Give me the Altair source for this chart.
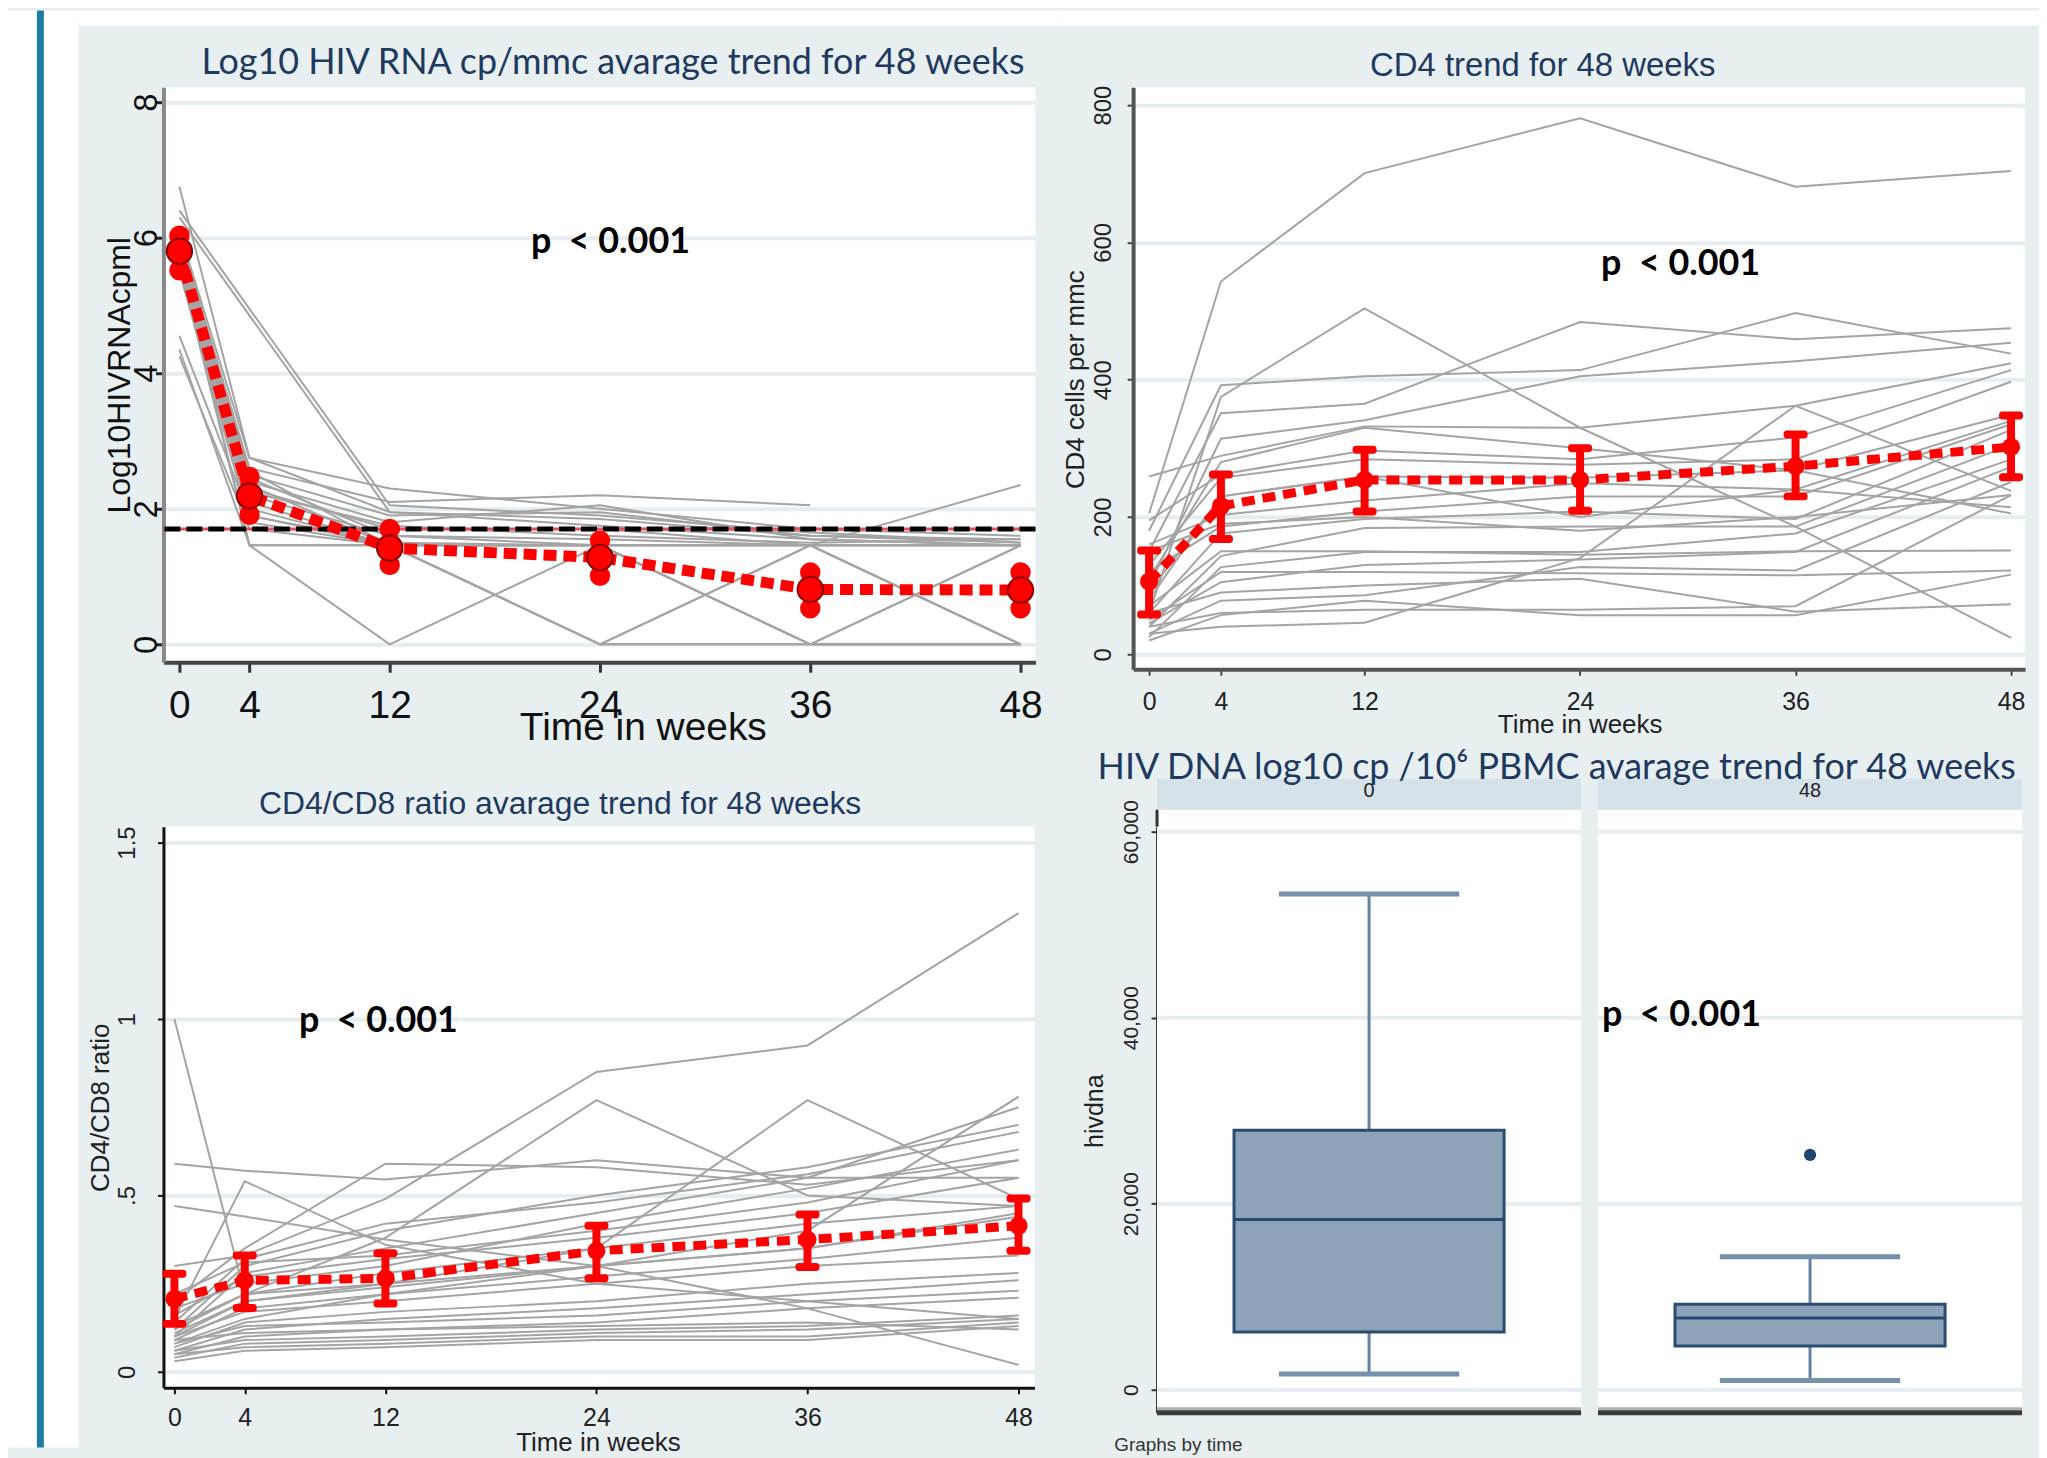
import altair as alt
import pandas as pd

# ---------------- data ----------------
weeks = [0, 4, 12, 24, 36, 48]

rna_mean = [5.80, 2.19, 1.42, 1.28, 0.81, 0.80]
rna_lo = [5.52, 1.91, 1.17, 1.01, 0.53, 0.53]
rna_hi = [6.03, 2.47, 1.70, 1.53, 1.06, 1.06]
rna_cutoff = [1.70]
rna_subjects = [
    [6.75, 2.75, 1.95, 1.85, 1.60, 1.55],
    [6.40, None, 2.05, 1.90, 1.65, 1.50],
    [6.30, None, 1.95, 1.75, 1.55, 1.46],
    [6.10, 2.75, 2.30, 2.00, 1.70, 1.60],
    [6.00, 2.60, 2.10, 2.20, 2.05, None],
    [5.90, 2.50, 1.90, 1.95, 1.60, 1.50],
    [5.85, 2.40, 1.80, 2.05, 1.55, 1.46],
    [5.80, 2.30, 1.70, 1.70, 1.46, 1.46],
    [5.75, 2.20, 1.60, 1.55, 1.46, 0.0],
    [5.70, 2.10, 1.46, 0.0, 1.46, 1.46],
    [5.65, 2.00, 1.46, 1.46, 0.0, 0.0],
    [5.60, 1.90, 1.46, 0.0, 0.0, 1.46],
    [5.50, 1.80, 1.46, 1.46, 1.46, 0.0],
    [5.60, 1.46, 0.0, 1.46, 0.0, 0.0],
    [5.70, 1.46, 1.46, 1.46, 1.46, 1.46],
    [4.55, 1.90, 1.50, 1.46, 0.0, 0.0],
    [4.35, 1.46, 1.46, 0.0, 1.46, 0.0],
    [4.25, 1.70, 1.46, 1.46, 1.46, 1.46],
    [5.95, 2.45, 1.60, 1.46, 1.46, 2.35],
    [6.05, 2.55, 1.46, 0.0, 0.0, 0.0],
    [5.90, 2.35, 1.46, 1.46, 0.0, 1.46],
    [5.80, 2.25, 1.75, 1.60, 1.50, 1.55],
]

cd4_mean = [106, 216, 254, 254, 274, 302]
cd4_lo = [58, 168, 208, 209, 230, 258]
cd4_hi = [151, 262, 298, 300, 320, 348]
cd4_subjects = [
    [205, 543, 701, 781, 681, 704],
    [60, 375, 504, 330, 186, 24],
    [180, 392, 405, 414, 497, 438],
    [150, 351, 365, 484, 459, 475],
    [100, 314, 341, 405, 427, 454],
    [259, 289, 332, 330, 362, 424],
    [195, 262, 297, 284, 316, 414],
    [130, 257, 284, 276, 284, 397],
    [80, 230, 259, 257, 268, 349],
    [160, 203, 224, 249, 240, 340],
    [120, 186, 208, 230, 230, 335],
    [60, 176, 197, 208, 197, 327],
    [40, 143, 184, 186, 186, 305],
    [25, 127, 149, 149, 176, 284],
    [45, 105, 130, 138, 149, 273],
    [30, 78, 86, 127, 122, 251],
    [20, 57, 78, 57, 57, 116],
    [30, 40, 46, 140, 362, 238],
    [90, 230, 259, 200, 240, 214],
    [110, 280, 330, 300, 268, 205],
    [70, 150, 150, 145, 150, 151],
    [50, 120, 120, 118, 115, 122],
    [60, 90, 100, 110, 62, 73],
    [40, 60, 65, 65, 70, 232],
    [150, 190, 200, 180, 200, 232],
]

ratio_mean = [0.207, 0.259, 0.265, 0.343, 0.375, 0.414]
ratio_lo = [0.136, 0.181, 0.194, 0.265, 0.297, 0.343]
ratio_hi = [0.278, 0.330, 0.336, 0.414, 0.446, 0.491]
ratio_subjects = [
    [0.30, 0.33, 0.49, 0.85, 0.925, 1.30],
    [0.12, 0.22, 0.38, 0.77, 0.50, 0.47],
    [1.00, 0.22, 0.25, 0.30, 0.35, 0.45],
    [0.59, 0.57, 0.545, 0.60, 0.55, 0.55],
    [0.20, 0.35, 0.59, 0.58, 0.53, 0.60],
    [0.47, 0.44, 0.375, 0.30, 0.18, 0.02],
    [0.15, 0.54, 0.36, 0.25, 0.20, 0.15],
    [0.10, 0.20, 0.25, 0.35, 0.77, 0.49],
    [0.08, 0.15, 0.22, 0.30, 0.40, 0.78],
    [0.10, 0.28, 0.35, 0.45, 0.55, 0.75],
    [0.12, 0.30, 0.40, 0.50, 0.58, 0.70],
    [0.14, 0.32, 0.42, 0.48, 0.56, 0.68],
    [0.18, 0.25, 0.30, 0.42, 0.52, 0.63],
    [0.22, 0.31, 0.33, 0.40, 0.48, 0.60],
    [0.16, 0.27, 0.32, 0.38, 0.45, 0.55],
    [0.13, 0.22, 0.28, 0.35, 0.42, 0.47],
    [0.11, 0.20, 0.24, 0.30, 0.35, 0.44],
    [0.09, 0.18, 0.22, 0.27, 0.32, 0.38],
    [0.10, 0.17, 0.20, 0.25, 0.30, 0.33],
    [0.07, 0.14, 0.17, 0.20, 0.25, 0.28],
    [0.06, 0.12, 0.15, 0.18, 0.22, 0.26],
    [0.08, 0.13, 0.14, 0.16, 0.20, 0.23],
    [0.05, 0.10, 0.12, 0.14, 0.18, 0.21],
    [0.06, 0.09, 0.10, 0.12, 0.13, 0.16],
    [0.04, 0.08, 0.09, 0.11, 0.12, 0.15],
    [0.05, 0.07, 0.08, 0.10, 0.10, 0.14],
    [0.03, 0.06, 0.07, 0.09, 0.09, 0.13],
    [0.09, 0.11, 0.12, 0.13, 0.14, 0.12],
]

dna_time = [0, 48]
dna_low = [1700, 1000]
dna_q1 = [6200, 4700]
dna_median = [18300, 7700]
dna_q3 = [27900, 9200]
dna_high = [53300, 14300]
dna_outlier_time = [48]
dna_outlier_value = [25250]
dna_grid = [0, 20000, 40000, 60000]

p_label = "p\u00a0\u00a0< 0.001"
p_rna = (24.6, 5.93)
p_cd4 = (29.6, 569)
p_ratio = (11.6, 0.994)
p_dna = (48, 40290)

# ---------------- styles ----------------
BG = "#e8eff1"
GRID = "#e5edf0"
GRAY = "#a4a4a4"
RED = "#ff0000"
NAVY = "#1f3a60"
BLUE_EDGE = "#1f7ba2"
ARIAL = "Liberation Sans"
CALIBRI = "Lato"

one = pd.DataFrame({"k": [0]})


def long_df(subjects):
    rows = []
    for i, s in enumerate(subjects):
        for w, v in zip(weeks, s):
            if v is not None:
                rows.append({"id": i, "week": w, "value": v})
    return pd.DataFrame(rows)


def box(x1, x2, y1, y2, color="white", opacity=1):
    return alt.Chart(one).mark_rect(color=color, opacity=opacity).encode(
        x=alt.value(x1), x2=alt.value(x2), y=alt.value(y1), y2=alt.value(y2))


def anchor(x1, x2, y1, y2):
    return box(x1, x2, y1, y2, opacity=0)


def text_at(txt, x, y, font, size, color, weight="normal", align="center"):
    return alt.Chart(pd.DataFrame({"t": [txt]})).mark_text(
        font=font, fontSize=size, color=color, fontWeight=weight,
        align=align, baseline="middle").encode(
        x=alt.value(x), y=alt.value(y), text="t:N")


def make_x(domain, axis):
    return alt.X("week:Q", scale=alt.Scale(domain=domain, nice=False, zero=False), axis=axis)


def make_y_factory(domain, axis):
    def f(field):
        return alt.Y(f"{field}:Q", scale=alt.Scale(domain=domain, nice=False, zero=False), axis=axis)
    return f


def trend_layers(subjects, mean, lo, hi, X, Y, line_w, dash, bar_w, p_pos, big=False):
    sdf = long_df(subjects)
    mdf = pd.DataFrame({"week": weeks, "value": mean, "lo": lo, "hi": hi})
    layers = [
        alt.Chart(sdf).mark_line(color=GRAY, strokeWidth=2).encode(x=X, y=Y("value"), detail="id:N"),
    ]
    mline = alt.Chart(mdf).mark_line(color=RED, strokeWidth=line_w, strokeDash=dash,
                                     strokeCap="butt").encode(x=X, y=Y("value"))
    bars = alt.Chart(mdf).mark_rule(color=RED, strokeWidth=bar_w).encode(
        x=X, y=Y("lo"), y2=alt.Y2("hi"))
    if big:
        caps = [alt.Chart(mdf).mark_circle(color=RED, size=420, opacity=1).encode(x=X, y=Y(f))
                for f in ("lo", "hi")]
        pts = alt.Chart(mdf).mark_point(filled=True, fill=RED, stroke="#8a0000", strokeWidth=2,
                                        size=650, opacity=1).encode(x=X, y=Y("value"))
    else:
        caps = [alt.Chart(mdf).mark_tick(color=RED, orient="horizontal", size=24, thickness=8,
                                         opacity=1, cornerRadius=3).encode(x=X, y=Y(f))
                for f in ("lo", "hi")]
        pts = alt.Chart(mdf).mark_circle(color=RED, size=330, opacity=1).encode(x=X, y=Y("value"))
    pdf = pd.DataFrame({"week": [p_pos[0]], "value": [p_pos[1]], "t": [p_label]})
    ptxt = alt.Chart(pdf).mark_text(font=CALIBRI, fontWeight="bold", fontSize=36, color="#000",
                                    baseline="middle").encode(x=X, y=Y("value"), text="t:N")
    return layers, [mline, bars] + caps + [pts, ptxt]


# Page layout (page pixels): column 1 plots start at x=164, column 2 at x=1137;
# row 1 plots start at y=85, row 2 at y=827.

# ---------------- panel 1: HIV RNA ----------------
TL_W, TL_H = 875, 577
tl_x = make_x([-0.91, 48.85], alt.Axis(
    values=weeks, grid=False, title="Time in weeks", titleFontSize=39, titleX=481, titleY=66,
    titleBaseline="middle", labelFontSize=39, labelBaseline="middle", labelPadding=33,
    tickSize=10, tickWidth=3, tickColor="#333", domainColor="#444", domainWidth=4,
    labelFlush=False, labelOverlap=False, labelColor="#111", titleColor="#111"))
tl_y = make_y_factory([-0.265, 8.22], alt.Axis(
    values=[0, 2, 4, 6, 8], grid=True, gridColor=GRID, gridWidth=4, title="Log10HIVRNAcpml",
    titleFontSize=32, titleX=-44, titleY=TL_H / 2, titleBaseline="middle", labelAngle=-90,
    labelAlign="center", labelBaseline="middle", labelFontSize=33, labelPadding=9, tickSize=8,
    tickWidth=3, tickColor="#222", domainColor="#888", domainWidth=4, labelColor="#111",
    titleColor="#111", labelFlush=False, labelOverlap=False))
base, top = trend_layers(rna_subjects, rna_mean, rna_lo, rna_hi, tl_x, tl_y, 11, [13, 7], 11,
                         p_rna, big=True)
cut = pd.DataFrame({"value": rna_cutoff})
cut_red = alt.Chart(cut).mark_rule(color="#e2505a", strokeWidth=3).encode(y=tl_y("value"))
cut_blk = alt.Chart(cut).mark_rule(color="#000", strokeWidth=5, strokeDash=[16, 6]).encode(y=tl_y("value"))
tl = alt.layer(
    box(-156, -85, -77, 663), box(-85, 896, -77, -62), box(-127, -120, -77, 663, BLUE_EDGE),
    *base, cut_red, cut_blk, *top,
    text_at("Log10 HIV RNA cp/mmc avarage trend for 48 weeks", 451, -24, CALIBRI, 36, NAVY),
    anchor(-156, 896, -77, 663)).properties(
    width=TL_W, height=TL_H, view=alt.ViewBackground(fill="white", strokeWidth=0))

# ---------------- panel 2: CD4 ----------------
TR_W, TR_H = 895, 584
tr_x = make_x([-0.89, 48.78], alt.Axis(
    values=weeks, grid=False, title="Time in weeks", titleFontSize=26, titleX=448, titleY=55,
    titleBaseline="middle", labelFontSize=25, labelBaseline="middle", labelPadding=26,
    tickSize=6, tickWidth=2, tickColor="#444", domainColor="#555", domainWidth=4,
    labelFlush=False, labelOverlap=False))
tr_y = make_y_factory([-21.8, 826.1], alt.Axis(
    values=[0, 200, 400, 600, 800], grid=True, gridColor=GRID, gridWidth=4,
    title="CD4 cells per mmc", titleFontSize=26, titleX=-58, titleY=293,
    titleBaseline="middle", labelAngle=-90, labelAlign="center", labelBaseline="middle",
    labelFontSize=24, labelPadding=24, tickSize=6, tickWidth=2, tickColor="#444",
    domainColor="#555", domainWidth=4, labelFlush=False, labelOverlap=False))
base, top = trend_layers(cd4_subjects, cd4_mean, cd4_lo, cd4_hi, tr_x, tr_y, 9, [13, 8], 8, p_cd4)
tr = alt.layer(
    box(-77, 909, -77, -62),
    *base, *top,
    text_at("CD4 trend for 48 weeks", 411, -21, ARIAL, 33, NAVY),
    anchor(-77, 909, -77, 660)).properties(
    width=TR_W, height=TR_H, view=alt.ViewBackground(fill="white", strokeWidth=0))

# ---------------- panel 3: CD4/CD8 ----------------
BL_W, BL_H = 874, 563
bl_x = make_x([-0.623, 48.907], alt.Axis(
    values=weeks, grid=False, title="Time in weeks", titleFontSize=26, titleX=436, titleY=55,
    titleBaseline="middle", labelFontSize=25, labelBaseline="middle", labelPadding=24,
    tickSize=6, tickWidth=2, tickColor="#111", domainColor="#111", domainWidth=3,
    labelFlush=False, labelOverlap=False))
bl_y = make_y_factory([-0.045, 1.545], alt.Axis(
    values=[0, 0.5, 1, 1.5], grid=True, gridColor=GRID, gridWidth=4,
    labelExpr="replace(format(datum.value, '~g'), '0.', '.')",
    title="CD4/CD8 ratio", titleFontSize=26, titleX=-63, titleY=BL_H / 2,
    titleBaseline="middle", labelAngle=-90, labelAlign="center", labelBaseline="middle",
    labelFontSize=24, labelPadding=30, tickSize=6, tickWidth=2, tickColor="#111",
    domainColor="#111", domainWidth=3, labelFlush=False, labelOverlap=False))
base, top = trend_layers(ratio_subjects, ratio_mean, ratio_lo, ratio_hi, bl_x, bl_y, 9, [13, 8], 8, p_ratio)
bl = alt.layer(
    box(-156, -85, -79, 623), box(-127, -120, -79, 623, BLUE_EDGE),
    *base, *top,
    text_at("CD4/CD8 ratio avarage trend for 48 weeks", 398, -23, ARIAL, 32, NAVY),
    anchor(-156, 896, -79, 623)).properties(
    width=BL_W, height=BL_H, view=alt.ViewBackground(fill="white", strokeWidth=0))

# ---------------- panel 4: HIV DNA boxes ----------------
BR_W, BR_H = 892, 588
BAND = 425.5
box_df = pd.DataFrame({"time": dna_time, "low": dna_low, "q1": dna_q1, "median": dna_median,
                       "q3": dna_q3, "high": dna_high})
grid_df = pd.DataFrame([{"time": t, "value": g} for t in dna_time for g in dna_grid])
out_df = pd.DataFrame({"time": dna_outlier_time, "value": dna_outlier_value})
Y_MIN, Y_MAX = -2464.3, 60535.7
base_df = pd.DataFrame({"time": dna_time, "value": [Y_MIN] * len(dna_time)})

br_x = alt.X("time:O", sort=dna_time, axis=None,
             scale=alt.Scale(type="band", paddingInner=0.03842, paddingOuter=0, range=[24, 892]))
br_axis = alt.Axis(
    values=dna_grid, grid=False, format=",.0f", title="hivdna", titleFontSize=25, titleX=-63,
    titleY=285, titleBaseline="middle", labelAngle=-90, labelAlign="center", offset=-24,
    labelBaseline="middle", labelFontSize=21, labelPadding=20, tickSize=6, tickWidth=2,
    tickColor="#333", domainColor="#333", domainWidth=3, labelFlush=False, labelOverlap=False)


def br_y(field):
    return alt.Y(f"{field}:Q", scale=alt.Scale(domain=[Y_MIN, Y_MAX], nice=False, zero=False),
                 axis=br_axis)


facet_bg = alt.Chart(box_df).mark_rect(color="white").encode(
    x=br_x, y=alt.value(-17), y2=alt.value(BR_H))
header_bg = alt.Chart(box_df).mark_rect(color="#d6e2e9").encode(
    x=br_x, y=alt.value(-48), y2=alt.value(-17))
header_txt = alt.Chart(box_df).mark_text(font=ARIAL, fontSize=20, color="#222",
                                         baseline="middle").encode(
    x=br_x, y=alt.value(-36), text="time:N")
gridlines = alt.Chart(grid_df).mark_tick(orient="horizontal", size=BAND, thickness=4,
                                         color=GRID, opacity=1).encode(x=br_x, y=br_y("value"))
bottom_shade = alt.Chart(base_df).mark_tick(orient="horizontal", size=BAND, thickness=3,
                                            color="#b0b0b0", opacity=1, yOffset=-4).encode(
    x=br_x, y=br_y("value"))
bottom_line = alt.Chart(base_df).mark_tick(orient="horizontal", size=BAND, thickness=5,
                                           color="#3a3a3a", opacity=1).encode(x=br_x, y=br_y("value"))
whisk_lo = alt.Chart(box_df).mark_rule(color="#6482a2", strokeWidth=3).encode(
    x=br_x, y=br_y("low"), y2=alt.Y2("q1"))
whisk_hi = alt.Chart(box_df).mark_rule(color="#6482a2", strokeWidth=3).encode(
    x=br_x, y=br_y("q3"), y2=alt.Y2("high"))
caps = [alt.Chart(box_df).mark_tick(orient="horizontal", size=181, thickness=5,
                                    color="#7691ac", opacity=1).encode(x=br_x, y=br_y(f))
        for f in ("low", "high")]
boxes = alt.Chart(box_df).mark_bar(size=271, color="#8da3b9", stroke="#2b4c70",
                                   strokeWidth=3).encode(x=br_x, y=br_y("q1"), y2=alt.Y2("q3"))
medians = alt.Chart(box_df).mark_tick(orient="horizontal", size=271, thickness=3,
                                      color="#254a70", opacity=1).encode(x=br_x, y=br_y("median"))
outliers = alt.Chart(out_df).mark_circle(size=150, color="#1f4670", opacity=1).encode(
    x=br_x, y=br_y("value"))
pdna = pd.DataFrame({"time": [p_dna[0]], "value": [p_dna[1]], "t": [p_label]})
p_txt = alt.Chart(pdna).mark_text(font=CALIBRI, fontWeight="bold", fontSize=36, color="#000",
                                  baseline="middle", dx=-129).encode(
    x=br_x, y=br_y("value"), text="t:N")

br = alt.layer(
    facet_bg, header_bg, header_txt, gridlines, bottom_shade, bottom_line, whisk_lo, whisk_hi,
    *caps, boxes, medians, outliers, p_txt,
    box(22.5, 25.5, -17, 0, "#333"),
    text_at("HIV DNA log10 cp /10\u2076  PBMC avarage trend for 48 weeks", 425, -59, CALIBRI, 36, NAVY),
    text_at("Graphs by time", -19, 620, ARIAL, 19, "#333", align="left"),
    anchor(-77, 909, -79, 623)).properties(width=BR_W, height=BR_H)

chart = alt.concat(tl, tr, bl, br, columns=2, spacing=0, align="each").properties(
    background=BG, padding=0).configure_view(strokeWidth=0).configure_axis(
    labelFont=ARIAL, titleFont=ARIAL, titleFontWeight="normal", labelColor="#222",
    titleColor="#222")

chart.save("out.html", embed_options={"renderer": "svg", "actions": False})
